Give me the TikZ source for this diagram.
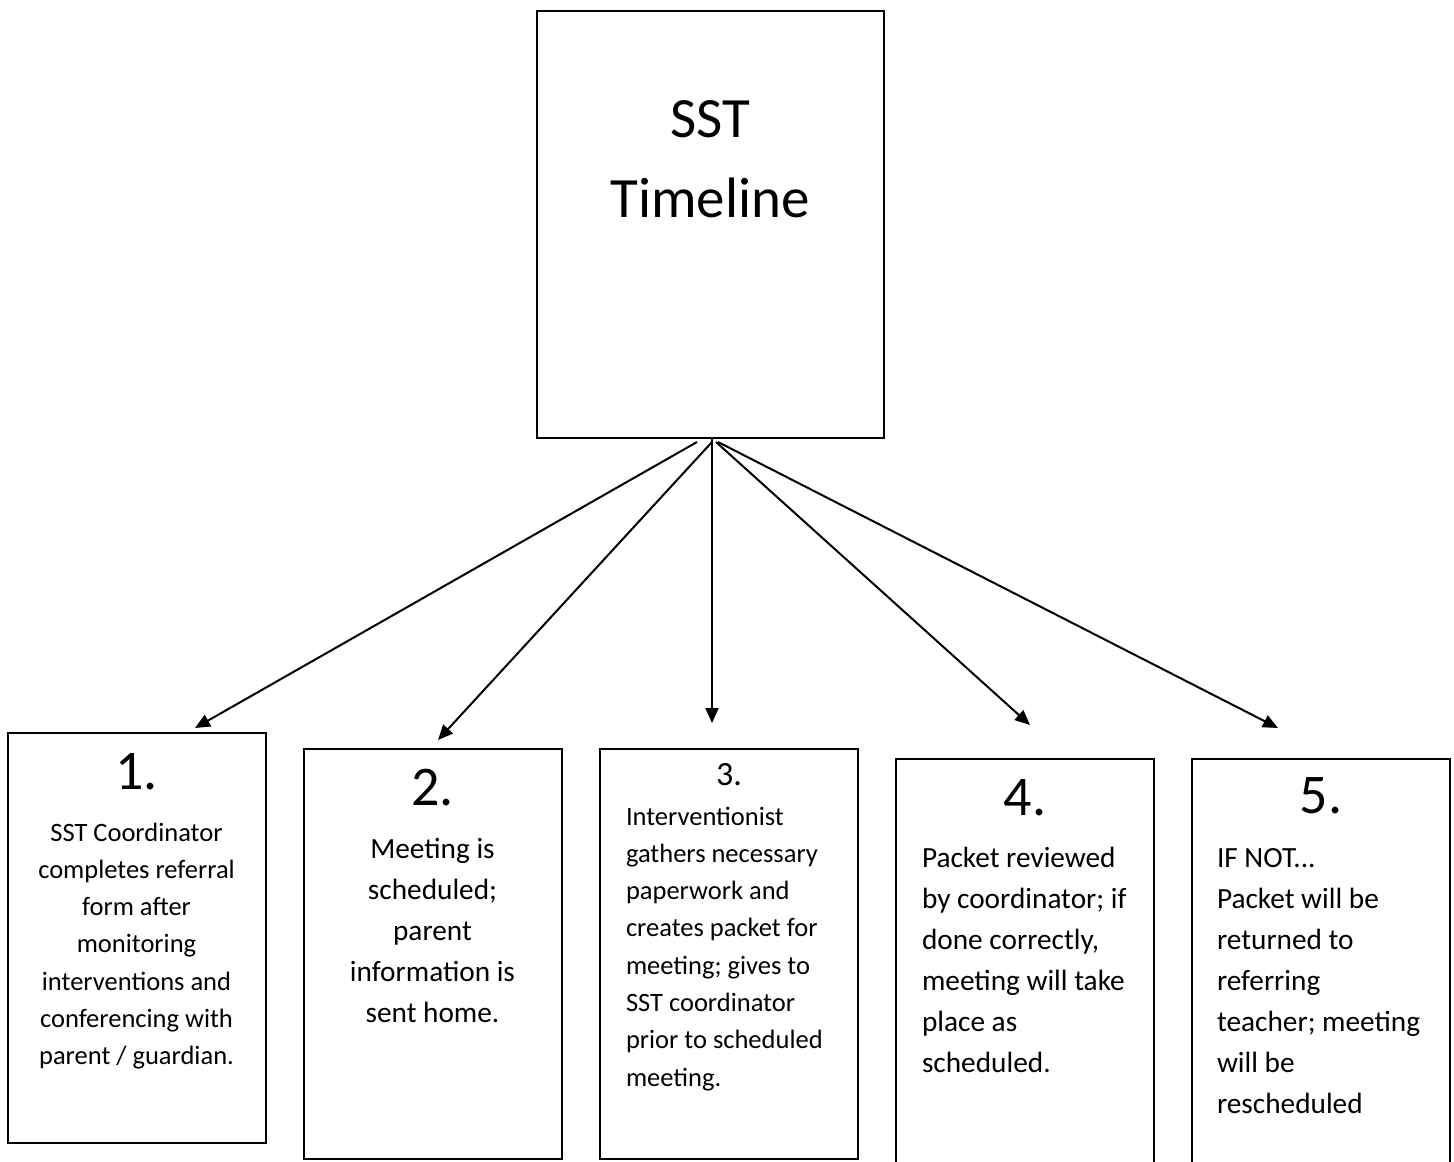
\documentclass[tikz,border=0pt]{standalone}
\usepackage{fontspec}
\setmainfont{Carlito}
\usetikzlibrary{arrows.meta}
\begin{document}
\begin{tikzpicture}[x=1pt, y=-1pt, line width=2pt,
        stepbox/.style={draw, rectangle, inner sep=0pt, anchor=north, minimum width=258pt},
        num/.style={anchor=base, inner sep=0pt, font=\fontsize{56}{60}\selectfont},
        body/.style={inner sep=0pt, text width=250pt, align=flush center, font=\fontsize{26.5}{37.3}\selectfont},
        bigbody/.style={inner sep=0pt, text width=230pt, font=\fontsize{29.3}{41}\selectfont},
        arr/.style={-{Triangle[length=15pt,width=13pt]}}]
    \useasboundingbox (0,0) rectangle (1454,1162);
    \node[draw, rectangle, inner sep=0pt, anchor=north, minimum width=347pt, minimum height=427pt] (title) at (710,10) {};
    \node[anchor=base, inner sep=0pt, text width=340pt, align=flush center, font=\fontsize{57}{80}\selectfont] (titletxt) at ([yshift=-127pt]title.north) {SST\\Timeline};

    \node[stepbox, minimum height=410pt] (s1) at (136.5,732) {};
    \node[stepbox, minimum height=410pt] (s2) at (432.5,747.5) {};
    \node[stepbox, minimum height=410pt] (s3) at (729,747.5) {};
    \node[stepbox, minimum height=430pt] (s4) at (1025,757.5) {};
    \node[stepbox, minimum height=430pt] (s5) at (1321,757.5) {};

    \node[num] (n1) at ([yshift=-57pt]s1.north) {1.};
    \node[num] (n2) at ([yshift=-57.5pt]s2.north) {2.};
    \node[num, font=\fontsize{34}{40}\selectfont] (n3) at ([yshift=-37.5pt]s3.north) {3.};
    \node[num] (n4) at ([yshift=-57.5pt]s4.north) {4.};
    \node[num] (n5) at ([yshift=-56pt]s5.north) {5.};

    \node[body, anchor=base] (t1) at ([yshift=-109pt]s1.north) {SST Coordinator\\completes referral\\form after\\monitoring\\interventions and\\conferencing with\\parent / guardian.};
    \node[bigbody, align=flush center, anchor=base] (t2) at ([yshift=-111pt]s2.north) {Meeting is\\scheduled;\\parent\\information is\\sent home.};
    \node[body, text width=228pt, align=flush left, anchor=base west] (t3) at ([xshift=26pt,yshift=-77.5pt]s3.north west) {Interventionist\\gathers necessary\\paperwork and\\creates packet for\\meeting; gives to\\SST coordinator\\prior to scheduled\\meeting.};
    \node[bigbody, align=flush left, anchor=base west] (t4) at ([xshift=26pt,yshift=-110pt]s4.north west) {Packet reviewed\\by coordinator; if\\done correctly,\\meeting will take\\place as\\scheduled.};
    \node[bigbody, align=flush left, anchor=base west] (t5) at ([xshift=25pt,yshift=-109.5pt]s5.north west) {IF NOT...\\Packet will be\\returned to\\referring\\teacher; meeting\\will be\\rescheduled};

    \draw[arr] ([xshift=-13pt,yshift=-3pt]title.south) -- ([xshift=58.5pt,yshift=4pt]s1.north);
    \draw[arr] ([xshift=2pt,yshift=-3pt]title.south) -- ([xshift=5.5pt,yshift=7.5pt]s2.north);
    \draw[arr] ([xshift=2pt]title.south) -- ([xshift=-17pt,yshift=24.5pt]s3.north);
    \draw[arr] ([xshift=6pt,yshift=-3pt]title.south) -- ([xshift=5pt,yshift=32.5pt]s4.north);
    \draw[arr] ([xshift=8pt,yshift=-3pt]title.south) -- ([xshift=-43pt,yshift=29.5pt]s5.north);
\end{tikzpicture}
\end{document}
